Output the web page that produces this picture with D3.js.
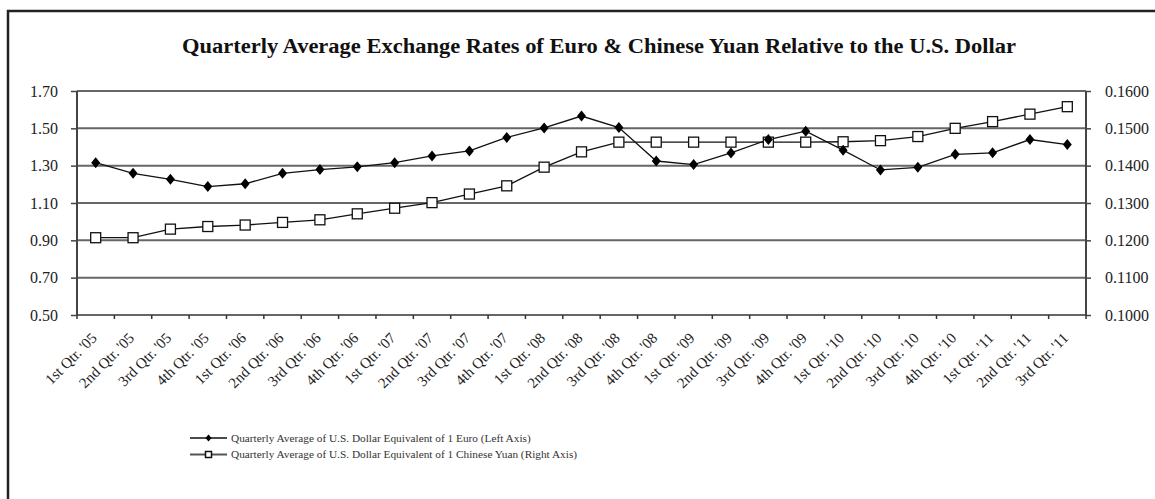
<!DOCTYPE html>
<meta charset="utf-8">
<style>
body {
  margin: 0;
  background: #fff;
  font-family: "Liberation Serif", "Times New Roman", serif;
}
.axis path { display: none; }
.axis line { stroke: #444; stroke-width: 1.5; }
.axis text { font-family: "Liberation Serif", serif; font-size: 16px; fill: #222; }
.grid line { stroke: #666; stroke-width: 2; }
.series { fill: none; stroke: #111; stroke-width: 1.3; }
</style>
<body>
<script src="https://cdn.jsdelivr.net/npm/d3@7"></script>
<script>

var width = 1155,
    height = 499;

var quarters = ["1st", "2nd", "3rd", "4th"];
var years = ["05", "06", "07", "08", "09", "10", "11"];

// 1st Qtr. '05 ... 3rd Qtr. '11
var categories = [];
years.forEach(function(y) {
  quarters.forEach(function(q) { categories.push(q + " Qtr. '" + y); });
});
categories = categories.slice(0, 27);

var euro = [1.316, 1.259, 1.227, 1.188, 1.203, 1.259, 1.279, 1.294, 1.316, 1.352, 1.379,
            1.451, 1.502, 1.566, 1.504, 1.325, 1.306, 1.368, 1.440, 1.485, 1.383, 1.277,
            1.291, 1.361, 1.369, 1.440, 1.413];

var yuan = [0.1207, 0.1207, 0.1230, 0.1237, 0.1241, 0.1248, 0.1255, 0.1271, 0.1286, 0.1301,
            0.1324, 0.1346, 0.1396, 0.1437, 0.1463, 0.1463, 0.1463, 0.1463, 0.1463, 0.1463,
            0.1464, 0.1467, 0.1478, 0.1500, 0.1518, 0.1538, 0.1558];

var leftTicks = [0.50, 0.70, 0.90, 1.10, 1.30, 1.50, 1.70];
var rightTicks = [0.10, 0.11, 0.12, 0.13, 0.14, 0.15, 0.16];

var legendLabels = [
  "Quarterly Average of U.S. Dollar Equivalent of 1 Euro (Left Axis)",
  "Quarterly Average of U.S. Dollar Equivalent of 1 Chinese Yuan (Right Axis)"
];

var margin = {top: 91, right: 69, bottom: 184, left: 77};

var svg = d3.select("body").append("svg")
    .attr("width", width)
    .attr("height", height);

// outer frame (left and top edges only are visible)
svg.append("path")
    .attr("d", "M8," + (height + 10) + "V11H" + (width + 10))
    .attr("fill", "none")
    .attr("stroke", "#222")
    .attr("stroke-width", 2.5);

svg.append("text")
    .attr("x", 599)
    .attr("y", 53)
    .attr("text-anchor", "middle")
    .attr("textLength", 834)
    .attr("lengthAdjust", "spacingAndGlyphs")
    .style("font-size", "20px")
    .style("font-weight", "bold")
    .style("fill", "#111")
    .text("Quarterly Average Exchange Rates of Euro & Chinese Yuan Relative to the U.S. Dollar");

var x = d3.scaleBand()
    .domain(categories)
    .range([margin.left, width - margin.right]);

var yL = d3.scaleLinear()
    .domain([0.5, 1.7])
    .range([height - margin.bottom, margin.top]);

var yR = d3.scaleLinear()
    .domain([0.10, 0.16])
    .range([height - margin.bottom, margin.top]);

var x0 = margin.left, x1 = width - margin.right, yb = height - margin.bottom;

// horizontal grid
svg.append("g").attr("class", "grid")
  .selectAll("line")
    .data(leftTicks)
  .enter().append("line")
    .attr("x1", x0)
    .attr("x2", x1)
    .attr("y1", function(d) { return yL(d); })
    .attr("y2", function(d) { return yL(d); });

// left axis
svg.append("g")
    .attr("class", "axis")
    .attr("transform", "translate(" + x0 + ",0)")
    .call(d3.axisLeft(yL).tickValues(leftTicks).tickFormat(d3.format(".2f")).tickSize(6).tickPadding(13));

// right axis
svg.append("g")
    .attr("class", "axis")
    .attr("transform", "translate(" + x1 + ",0)")
    .call(d3.axisRight(yR).tickValues(rightTicks).tickFormat(d3.format(".4f")).tickSize(5).tickPadding(14));

// vertical axis lines
svg.append("line")
    .attr("x1", x0).attr("x2", x0).attr("y1", margin.top).attr("y2", yb)
    .attr("stroke", "#444").attr("stroke-width", 2);
svg.append("line")
    .attr("x1", x1).attr("x2", x1).attr("y1", margin.top).attr("y2", yb)
    .attr("stroke", "#444").attr("stroke-width", 2);

// bottom axis: ticks at category boundaries
var bounds = categories.map(function(c) { return x(c); }).concat([x1]);
svg.append("g").selectAll("line")
    .data(bounds)
  .enter().append("line")
    .attr("x1", function(d) { return d; })
    .attr("x2", function(d) { return d; })
    .attr("y1", yb)
    .attr("y2", yb + 4)
    .attr("stroke", "#333")
    .attr("stroke-width", 1.5);

svg.append("g").selectAll("text")
    .data(categories)
  .enter().append("text")
    .attr("transform", function(d) {
      return "translate(" + (x(d) + x.bandwidth() / 2 + 2) + "," + (yb + 24) + ") rotate(-45)";
    })
    .attr("text-anchor", "end")
    .style("font-size", "15px")
    .style("fill", "#222")
    .text(function(d) { return d; });

var cx = function(i) { return x(categories[i]) + x.bandwidth() / 2; };

var diamond = "M0,-5.5L4.5,0L0,5.5L-4.5,0Z";

// euro series
svg.append("path")
    .datum(euro)
    .attr("class", "series")
    .attr("d", d3.line().x(function(d, i) { return cx(i); }).y(function(d) { return yL(d); }));

// yuan series
svg.append("path")
    .datum(yuan)
    .attr("class", "series")
    .attr("d", d3.line().x(function(d, i) { return cx(i); }).y(function(d) { return yR(d); }));

svg.append("g").selectAll("rect")
    .data(yuan)
  .enter().append("rect")
    .attr("x", function(d, i) { return cx(i) - 5; })
    .attr("y", function(d) { return yR(d) - 5; })
    .attr("width", 10)
    .attr("height", 10)
    .attr("fill", "#fff")
    .attr("stroke", "#111")
    .attr("stroke-width", 1.3);

svg.append("g").selectAll("path")
    .data(euro)
  .enter().append("path")
    .attr("d", diamond)
    .attr("transform", function(d, i) { return "translate(" + cx(i) + "," + yL(d) + ")"; })
    .attr("fill", "#000");

// legend
var legend = svg.append("g").selectAll("g")
    .data(legendLabels)
  .enter().append("g")
    .attr("transform", function(d, i) { return "translate(190," + (438 + i * 16.5) + ")"; });

legend.append("line")
    .attr("x1", 0).attr("x2", 37)
    .attr("stroke", function(d, i) { return i ? "#555" : "#111"; })
    .attr("stroke-width", function(d, i) { return i ? 2 : 1.5; });

legend.filter(function(d, i) { return i === 0; }).append("path")
    .attr("d", "M0,-3.5L3,0L0,3.5L-3,0Z")
    .attr("transform", "translate(18.5,0)")
    .attr("fill", "#000");

legend.filter(function(d, i) { return i === 1; }).append("rect")
    .attr("x", 15.5).attr("y", -3).attr("width", 6).attr("height", 6)
    .attr("fill", "#fff").attr("stroke", "#111").attr("stroke-width", 1.5);

legend.append("text")
    .attr("x", 41)
    .attr("y", 3.5)
    .style("font-size", "11.3px")
    .style("fill", "#333")
    .text(function(d) { return d; });

</script>
</body>
